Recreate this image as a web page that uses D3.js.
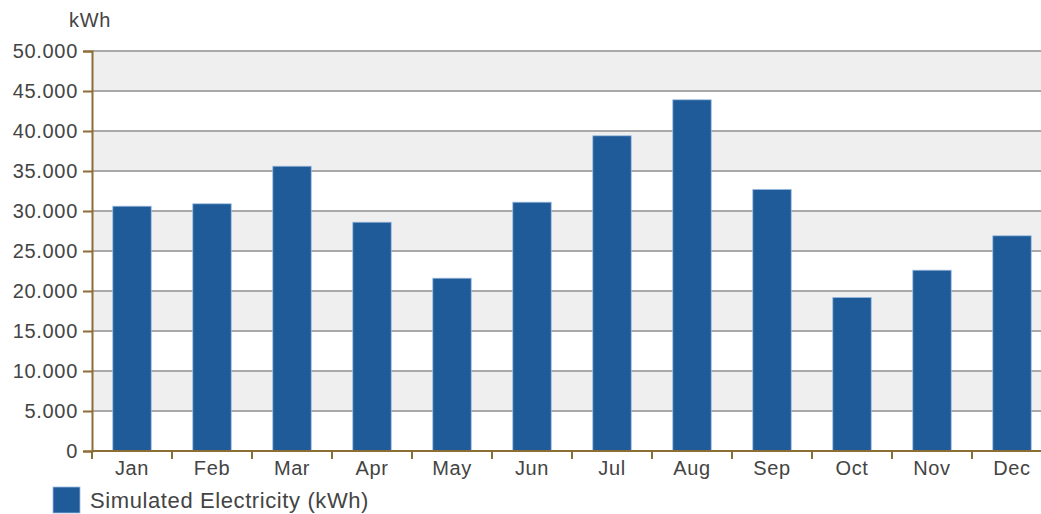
<!DOCTYPE html>
<html>
<head>
<meta charset="utf-8">
<script src="https://cdn.jsdelivr.net/npm/d3@7"></script>
<style>
  body { margin: 0; background: #fff; overflow: hidden; }
  svg text { font-family: "Liberation Sans", Arial, sans-serif; fill: #444; }
</style>
</head>
<body>
<svg id="chart" width="1041" height="514"></svg>
<script>
// Data
const months = ['Jan', 'Feb', 'Mar', 'Apr', 'May', 'Jun', 'Jul', 'Aug', 'Sep', 'Oct', 'Nov', 'Dec'];
const electricity = [30600, 30900, 35600, 28600, 21600, 31100, 39400, 43900, 32700, 19200, 22600, 26900];
const yTicks = [0, 5000, 10000, 15000, 20000, 25000, 30000, 35000, 40000, 45000, 50000];
const unitLabel = 'kWh';
const seriesName = 'Simulated Electricity (kWh)';

const fmt = d => d3.format(',')(d).replace(/,/g, '.');

const svg = d3.select('#chart');
const margin = {left: 92, top: 51, right: -11, bottom: 63};
const width = 1041, height = 514;
const iw = width - margin.left - margin.right;
const ih = height - margin.top - margin.bottom;

const g = svg.append('g').attr('transform', `translate(${margin.left},${margin.top})`);

const x = d3.scaleBand().domain(months).range([0, iw]).paddingInner(0.52).paddingOuter(0.26);
const y = d3.scaleLinear().domain([0, 50000]).range([ih, 0]);

// alternating bands
const bandPairs = d3.pairs(yTicks).filter((p, i) => i % 2 === 1);
g.append('g').selectAll('rect')
    .data(bandPairs)
    .join('rect')
    .attr('x', 0)
    .attr('width', iw)
    .attr('y', d => y(d[1]))
    .attr('height', d => y(d[0]) - y(d[1]))
    .attr('fill', '#efefef');

// grid lines
g.append('g').selectAll('line')
    .data(yTicks.filter(d => d > 0))
    .join('line')
    .attr('x1', 0).attr('x2', iw)
    .attr('y1', d => y(d)).attr('y2', d => y(d))
    .attr('stroke', '#a9a9a9')
    .attr('stroke-width', 2);

// bars
g.append('g').selectAll('rect')
    .data(months.map((m, i) => ({m, v: electricity[i]})))
    .join('rect')
    .attr('x', d => x(d.m))
    .attr('width', x.bandwidth())
    .attr('y', d => y(d.v))
    .attr('height', d => ih - y(d.v))
    .attr('fill', '#1f5b98')
    .attr('stroke', '#9dbbe0')
    .attr('stroke-width', 0.8);

// y axis
const axisColor = '#8c6d34';
const gy = g.append('g').call(d3.axisLeft(y).tickValues(yTicks).tickFormat(fmt).tickSize(9).tickPadding(5));
gy.select('.domain').attr('stroke', axisColor).attr('stroke-width', 2);
gy.selectAll('.tick line').attr('stroke', axisColor).attr('stroke-width', 2);
gy.selectAll('.tick text')
    .style('font-size', '20px')
    .style('letter-spacing', '0.7px')
    .attr('fill', '#444');

// x axis
const step = x.step();
const gx = g.append('g').attr('transform', `translate(0,${ih})`);
gx.append('line').attr('x1', 0).attr('x2', iw).attr('stroke', axisColor).attr('stroke-width', 2);
gx.selectAll('line.tk')
    .data(months)
    .join('line')
    .attr('class', 'tk')
    .attr('x1', d => x(d) - (step - x.bandwidth()) / 2)
    .attr('x2', d => x(d) - (step - x.bandwidth()) / 2)
    .attr('y1', 0).attr('y2', 8)
    .attr('stroke', axisColor).attr('stroke-width', 2);
gx.selectAll('text')
    .data(months)
    .join('text')
    .attr('x', d => x(d) + x.bandwidth() / 2)
    .attr('y', 24)
    .attr('text-anchor', 'middle')
    .style('font-size', '20px')
    .style('letter-spacing', '0.6px')
    .text(d => d);

// unit label
svg.append('text')
    .attr('x', 90)
    .attr('y', 27)
    .attr('text-anchor', 'middle')
    .style('font-size', '20px')
    .style('letter-spacing', '0.7px')
    .text(unitLabel);

// legend
svg.append('rect')
    .attr('x', 53).attr('y', 487)
    .attr('width', 27).attr('height', 26)
    .attr('fill', '#1f5b98')
    .attr('stroke', '#9dbbe0')
    .attr('stroke-width', 0.8);
svg.append('text')
    .attr('x', 90)
    .attr('y', 508)
    .style('font-size', '22px')
    .style('letter-spacing', '0.6px')
    .text(seriesName);
</script>
</body>
</html>
